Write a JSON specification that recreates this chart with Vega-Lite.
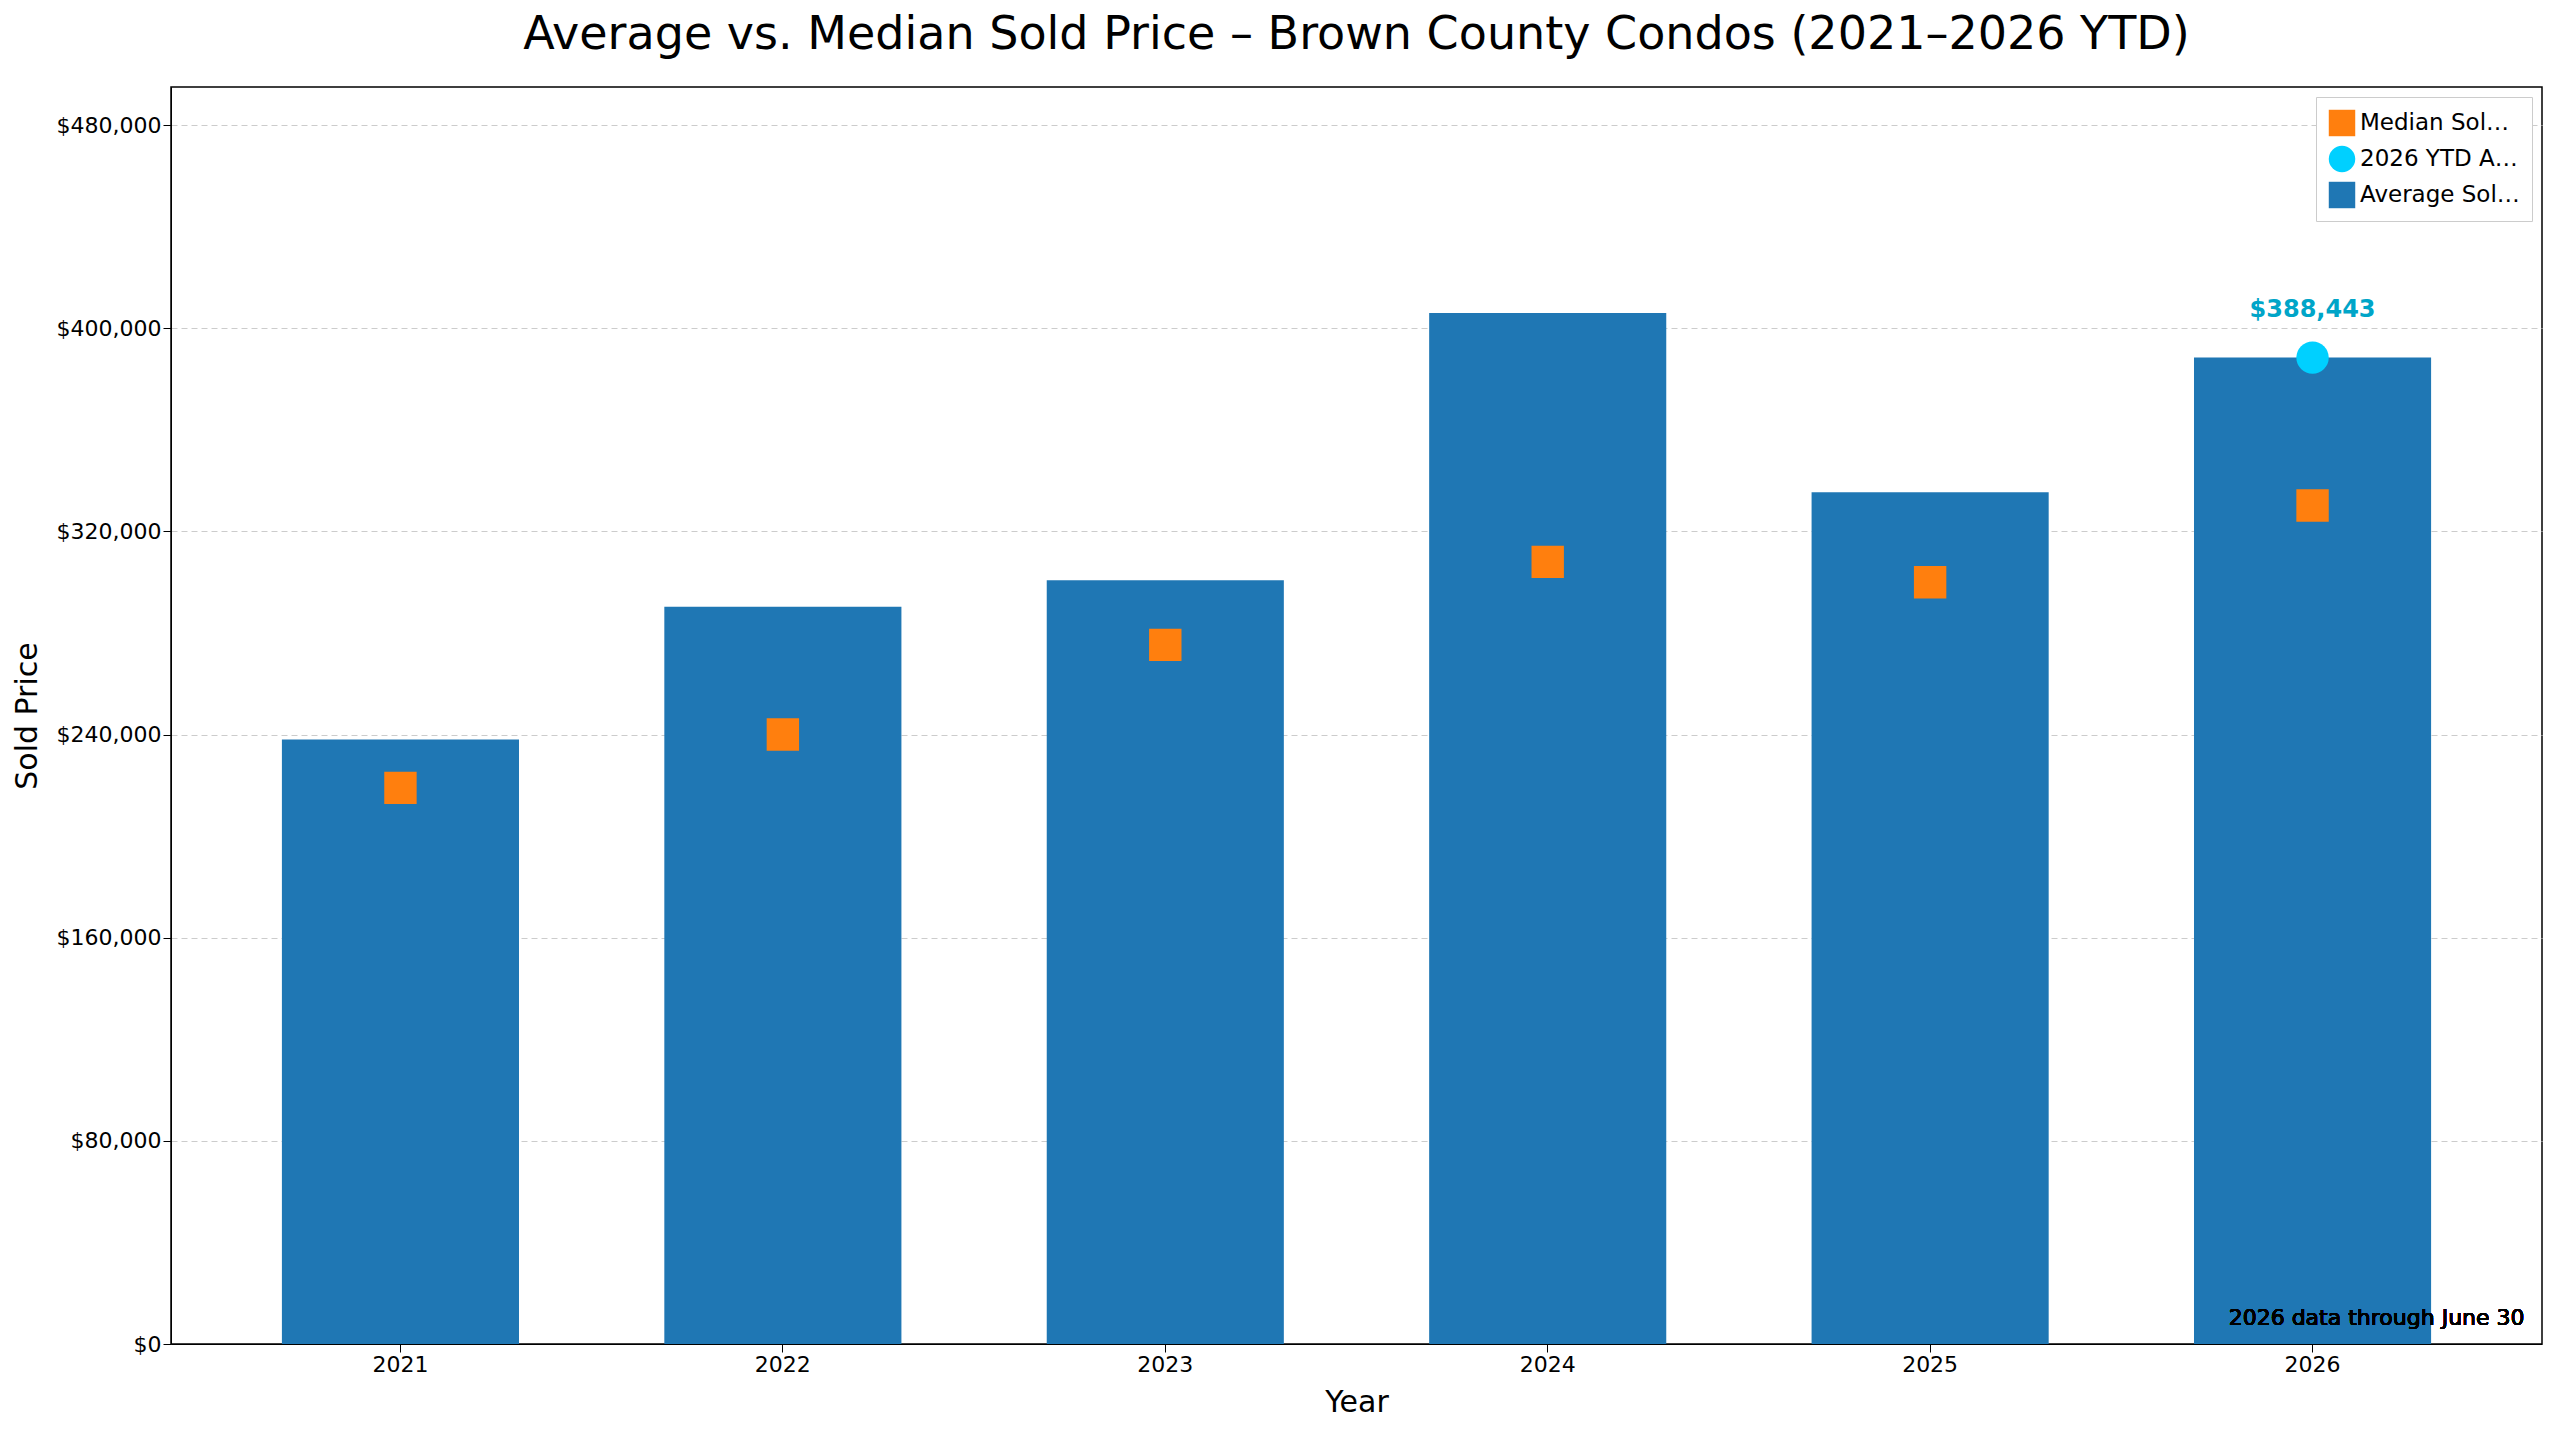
{
  "$schema": "https://vega.github.io/schema/vega-lite/v6.json",
  "width": 2560,
  "height": 1431,
  "autosize": {"type": "fit", "contains": "padding"},
  "padding": {"left": 12, "top": 12, "right": 18, "bottom": 14},
  "background": "white",
  "title": {"text": "Average vs. Median Sold Price – Brown County Condos (2021–2026 YTD)", "font": "DejaVu Sans", "fontSize": 46, "fontWeight": "normal", "color": "black", "offset": 28},
  "config": {
    "font": "DejaVu Sans",
    "view": {"stroke": "black", "strokeWidth": 1.5},
    "axis": {"labelFont": "DejaVu Sans", "titleFont": "DejaVu Sans", "labelFontSize": 22, "titleFontSize": 30, "titleFontWeight": "normal", "labelColor": "black", "titleColor": "black", "tickColor": "black", "domainColor": "black", "tickSize": 8}
  },
  "data": {
    "values": [
      {"year": "2021", "series": "Average Sold Price", "value": 238000},
      {"year": "2022", "series": "Average Sold Price", "value": 290300},
      {"year": "2023", "series": "Average Sold Price", "value": 300800},
      {"year": "2024", "series": "Average Sold Price", "value": 406000},
      {"year": "2025", "series": "Average Sold Price", "value": 335400},
      {"year": "2026", "series": "Average Sold Price", "value": 388443},
      {"year": "2021", "series": "Median Sold Price", "value": 219000},
      {"year": "2022", "series": "Median Sold Price", "value": 240000},
      {"year": "2023", "series": "Median Sold Price", "value": 275300},
      {"year": "2024", "series": "Median Sold Price", "value": 308000},
      {"year": "2025", "series": "Median Sold Price", "value": 300000},
      {"year": "2026", "series": "Median Sold Price", "value": 330200},
      {"year": "2026", "series": "2026 YTD Average Sold Price", "value": 388443}
    ]
  },
  "encoding": {
    "x": {"field": "year", "type": "ordinal", "title": "Year",
      "scale": {"paddingInner": 0.38, "paddingOuter": 0.29},
      "axis": {"labelAngle": 0, "grid": false, "titlePadding": 12}},
    "y": {"field": "value", "type": "quantitative", "title": "Sold Price",
      "scale": {"domain": [0, 495000], "nice": false},
      "axis": {"values": [0, 80000, 160000, 240000, 320000, 400000, 480000], "format": "$,.0f", "gridDash": [6, 4], "gridColor": "#cccccc", "titlePadding": 14}}
  },
  "layer": [
    {
      "transform": [{"filter": "datum.series == 'Average Sold Price'"}],
      "mark": {"type": "bar", "color": "#1f77b4"},
      "encoding": {
        "color": {"field": "series", "type": "nominal",
          "scale": {"domain": ["Median Sold Price", "2026 YTD Average Sold Price", "Average Sold Price"], "range": ["#ff7f0e", "#00d0ff", "#1f77b4"]},
          "legend": {"title": null, "orient": "top-right", "labelFontSize": 23, "labelFont": "DejaVu Sans", "symbolSize": 700, "strokeColor": "#cccccc", "fillColor": "white", "padding": 12, "offset": 10, "rowPadding": 8, "symbolOpacity": 1}}
      }
    },
    {
      "transform": [{"filter": "datum.series != 'Average Sold Price'"}],
      "mark": {"type": "point", "filled": true, "opacity": 1},
      "encoding": {
        "color": {"field": "series", "type": "nominal"},
        "shape": {"field": "series", "type": "nominal",
          "scale": {"domain": ["Median Sold Price", "2026 YTD Average Sold Price", "Average Sold Price"], "range": ["square", "circle", "square"]}},
        "size": {"value": 1050}
      }
    },
    {
      "transform": [{"filter": "datum.series == '2026 YTD Average Sold Price'"}],
      "mark": {"type": "text", "dy": -48, "fontSize": 24, "fontWeight": "bold", "color": "#00a5c8"},
      "encoding": {"text": {"field": "value", "type": "quantitative", "format": "$,.0f"}}
    },
    {
      "mark": {"type": "text", "align": "right", "baseline": "bottom", "dx": 212, "dy": -14, "fontSize": 22, "color": "black"},
      "encoding": {"x": {"datum": "2026"}, "y": {"datum": 0}, "text": {"value": "2026 data through June 30"}}
    }
  ]
}
